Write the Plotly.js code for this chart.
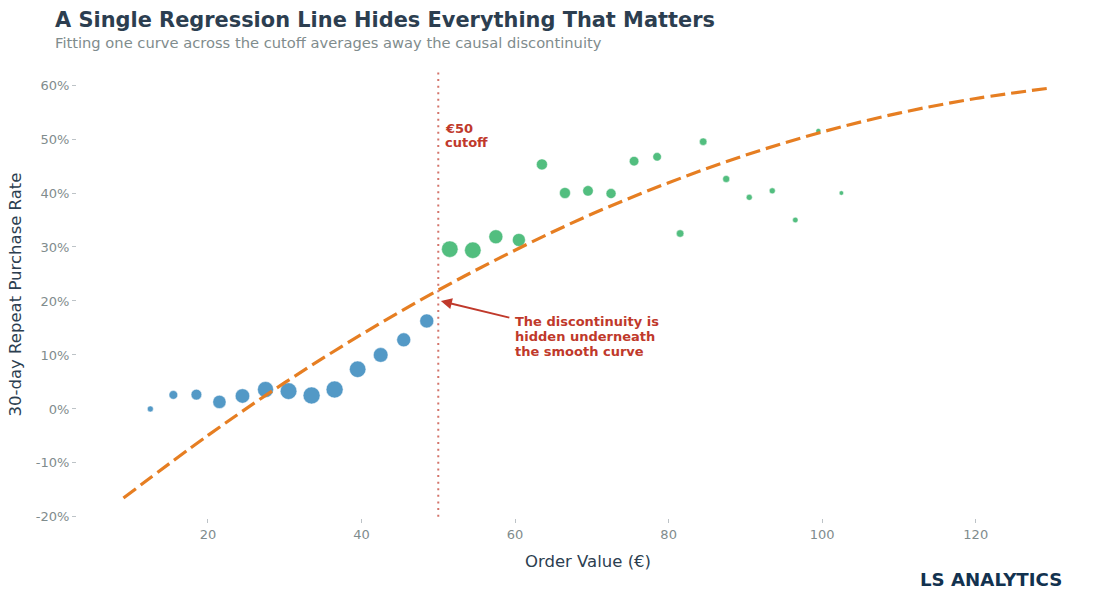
<!DOCTYPE html>
<html>
<head>
<meta charset="utf-8">
<script src="https://cdn.plot.ly/plotly-3.0.1.min.js"></script>
<style>
  html, body { margin: 0; padding: 0; background: #ffffff; }
  #chart { width: 1108px; height: 598px; }
</style>
</head>
<body>
<div id="chart"></div>
<script>
// Binned order values (€) and repeat-purchase rates (%), below and above the €50 cutoff
const belowX = [12.5, 15.5, 18.5, 21.5, 24.5, 27.5, 30.5, 33.5, 36.5, 39.5, 42.5, 45.5, 48.5];
const belowY = [0.0, 2.6, 2.65, 1.3, 2.4, 3.6, 3.3, 2.5, 3.6, 7.35, 10.0, 12.8, 16.3];
const belowSize = [6, 8.7, 10.7, 13.3, 14.5, 16, 16.7, 17, 17, 16.5, 14.7, 14, 14];

const aboveX = [51.5, 54.5, 57.5, 60.5, 63.5, 66.5, 69.5, 72.5, 75.5, 78.5, 81.5, 84.5, 87.5, 90.5, 93.5, 96.5, 99.5, 102.5];
const aboveY = [29.6, 29.4, 31.9, 31.3, 45.3, 40.0, 40.4, 39.9, 45.9, 46.7, 32.5, 49.5, 42.6, 39.2, 40.4, 35.0, 51.5, 40.0];
const aboveSize = [16.5, 16.5, 14, 13, 11, 11, 10.5, 10, 9.5, 8.5, 7.5, 7.5, 7, 6, 6, 5.5, 5, 4.5];

// Single smooth regression curve fitted across the whole range
const fitX = [9, 20, 30, 40, 50, 60, 70, 80, 90, 100, 110, 120, 130];
const fitY = [-16.5, -4.9, 4.86, 13.8, 22.0, 29.4, 36.1, 41.9, 47.0, 51.3, 54.8, 57.5, 59.5];

const cutoff = 50;

const yTickVals = [-20, -10, 0, 10, 20, 30, 40, 50, 60];
const yTickText = ['-20%', '-10%', '0%', '10%', '20%', '30%', '40%', '50%', '60%'];
const xTickVals = [20, 40, 60, 80, 100, 120];

const cutoffLines = ['€50', 'cutoff'];
const noteLines = ['The discontinuity is', 'hidden underneath', 'the smooth curve'];

const traces = [
  {
    x: belowX, y: belowY, type: 'scatter', mode: 'markers',
    marker: { size: belowSize, color: '#2980b9', opacity: 0.8,
              line: { color: 'rgba(255,255,255,0.6)', width: 0.8 } },
    hoverinfo: 'x+y', showlegend: false
  },
  {
    x: aboveX, y: aboveY, type: 'scatter', mode: 'markers',
    marker: { size: aboveSize, color: '#27ae60', opacity: 0.8,
              line: { color: 'rgba(255,255,255,0.6)', width: 0.8 } },
    hoverinfo: 'x+y', showlegend: false
  },
  {
    x: fitX, y: fitY, type: 'scatter', mode: 'lines',
    line: { color: '#e67e22', width: 3.2, dash: '15px,6px', shape: 'spline', smoothing: 1 },
    hoverinfo: 'skip', showlegend: false
  }
];

const red = '#c0392b';
const tickFont = { family: 'DejaVu Sans', size: 13, color: '#7f8c8d' };

const annotations = [
  {
    xref: 'paper', yref: 'paper', x: -0.0215, y: 1.0, xshift: -2, yshift: 51,
    xanchor: 'left', yanchor: 'middle', showarrow: false,
    text: '<b>A Single Regression Line Hides Everything That Matters</b>',
    font: { family: 'DejaVu Sans', size: 20.9, color: '#2c3e50' }
  },
  {
    xref: 'paper', yref: 'paper', x: -0.0215, y: 1.0, xshift: -2, yshift: 29,
    xanchor: 'left', yanchor: 'middle', showarrow: false,
    text: 'Fitting one curve across the cutoff averages away the causal discontinuity',
    font: { family: 'DejaVu Sans', size: 14.7, color: '#7f8c8d' }
  },
  {
    // arrow from the note back to the cutoff
    xref: 'x', yref: 'y', x: 50.34, y: 20.0,
    axref: 'x', ayref: 'y', ax: 59.45, ay: 16.85,
    showarrow: true, arrowhead: 2, arrowsize: 1.1, arrowwidth: 2, arrowcolor: red,
    standoff: 0, startstandoff: 0, text: ''
  },
  {
    xref: 'paper', yref: 'paper', x: 1.0, y: 0, xshift: -35, yshift: -61,
    xanchor: 'right', yanchor: 'middle', showarrow: false,
    text: '<b>LS ANALYTICS</b>',
    font: { family: 'DejaVu Sans', size: 18.2, color: '#12324f' }
  }
];

// cutoff label, one line at a time
cutoffLines.forEach(function (line, i) {
  annotations.push({
    xref: 'x', yref: 'y', x: 50.85, y: 52.0, xshift: -2, yshift: -14 * i,
    xanchor: 'left', yanchor: 'middle', showarrow: false,
    text: '<b>' + line + '</b>',
    font: { family: 'DejaVu Sans', size: 13, color: red }
  });
});

// note beside the arrow
noteLines.forEach(function (line, i) {
  annotations.push({
    xref: 'x', yref: 'y', x: 60.0, y: 13.5, xshift: -2, yshift: 15 * (1 - i),
    xanchor: 'left', yanchor: 'middle', showarrow: false,
    text: '<b>' + line + '</b>',
    font: { family: 'DejaVu Sans', size: 13, color: red }
  });
});

const layout = {
  width: 1108, height: 598,
  margin: { l: 77, r: 9, t: 71, b: 80 },
  paper_bgcolor: '#ffffff', plot_bgcolor: '#ffffff',
  font: { family: 'DejaVu Sans', color: '#2c3e50' },
  showlegend: false,
  xaxis: {
    range: [2.95, 136.05],
    tickvals: xTickVals,
    ticks: 'outside', ticklen: 4, tickwidth: 1, tickcolor: '#bdc3c7',
    tickfont: tickFont,
    showgrid: false, zeroline: false, showline: false,
    title: { text: 'Order Value (€)', font: { family: 'DejaVu Sans', size: 16.5, color: '#2c3e50' }, standoff: 14 }
  },
  yaxis: {
    range: [-20.2, 62.6],
    tickvals: yTickVals, ticktext: yTickText,
    ticks: 'outside', ticklen: 4, tickwidth: 1, tickcolor: '#bdc3c7',
    tickfont: tickFont,
    showgrid: false, zeroline: false, showline: false,
    title: { text: '30-day Repeat Purchase Rate', font: { family: 'DejaVu Sans', size: 16.5, color: '#2c3e50' }, standoff: 10 }
  },
  shapes: [
    {
      type: 'line', xref: 'x', yref: 'paper', x0: cutoff, x1: cutoff, y0: 0.003, y1: 0.998,
      line: { color: 'rgba(192,57,43,0.7)', width: 2, dash: '2px,4.6px' }
    }
  ],
  annotations: annotations
};

Plotly.newPlot('chart', traces, layout, { displayModeBar: false, staticPlot: true });
</script>
</body>
</html>
